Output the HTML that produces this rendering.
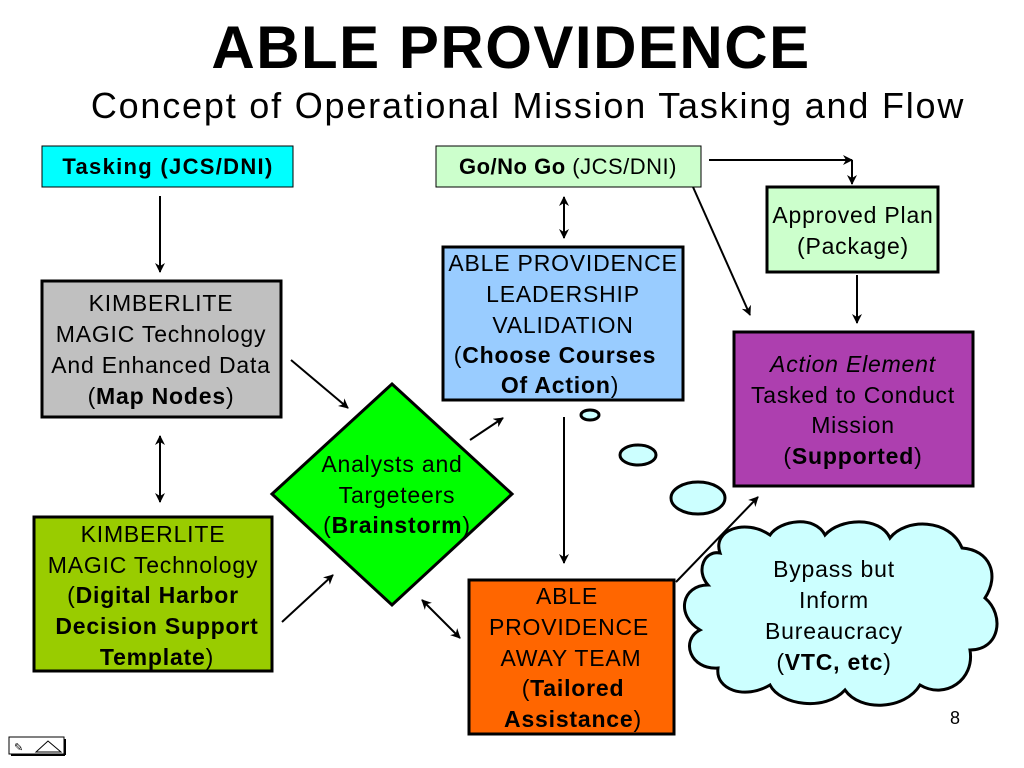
<!DOCTYPE html>
<html><head><meta charset="utf-8"><style>
html,body{margin:0;padding:0;background:#fff;}
svg{display:block;font-family:"Liberation Sans",Arial,sans-serif;}
</style></head><body>
<svg width="1024" height="768" viewBox="0 0 1024 768" xmlns="http://www.w3.org/2000/svg">
<defs>
<marker id="a" markerWidth="10" markerHeight="10" refX="9" refY="5" orient="auto" markerUnits="userSpaceOnUse"><path d="M0,0 L10,5 L0,10 L3,5 Z" fill="#000"/></marker>
<marker id="s" markerWidth="10" markerHeight="10" refX="1" refY="5" orient="auto" markerUnits="userSpaceOnUse"><path d="M10,0 L0,5 L10,10 L7,5 Z" fill="#000"/></marker>
</defs>
<rect width="1024" height="768" fill="#fff"/>
<text x="511" y="68" text-anchor="middle" font-size="60" font-weight="bold" letter-spacing="1.5">ABLE PROVIDENCE</text>
<text x="528" y="118" text-anchor="middle" font-size="36" letter-spacing="1.8">Concept of Operational Mission Tasking and Flow</text>

<g stroke="#000" stroke-width="3">
<rect x="42" y="146" width="251" height="41" fill="#00ffff" stroke-width="1"/>
<rect x="436" y="146" width="265" height="41" fill="#ccffcc" stroke-width="1"/>
<rect x="767" y="187" width="171" height="85" fill="#ccffcc"/>
<rect x="42" y="281" width="239" height="136" fill="#c0c0c0"/>
<rect x="443" y="247" width="240" height="153" fill="#99ccff"/>
<rect x="734" y="332" width="239" height="154" fill="#ad3faf"/>
<polygon points="392,384 512,494 392,605 272,494" fill="#00ff00"/>
<rect x="34" y="517" width="238" height="154" fill="#99cc00"/>
<rect x="469" y="580" width="205" height="154" fill="#ff6600"/>
<ellipse cx="590" cy="415" rx="9" ry="5" fill="#ccffff"/>
<ellipse cx="638" cy="455" rx="18" ry="10" fill="#ccffff"/>
<ellipse cx="698" cy="498" rx="27" ry="16" fill="#ccffff"/>
<path d="M720,553 C712,530 745,518 770,535 C780,520 815,515 825,535 C840,518 880,516 890,538 C905,518 950,518 962,548 C990,550 1000,575 985,598 C1005,615 1000,650 970,650 C975,680 945,700 920,685 C905,710 860,712 845,690 C825,712 780,705 770,685 C745,700 715,690 718,668 C690,670 680,640 700,630 C675,615 682,585 708,585 C695,570 705,550 720,553 Z" fill="#ccffff"/>
</g>

<g stroke="#000" stroke-width="2" fill="none">
<line x1="160" y1="196" x2="160" y2="272" marker-end="url(#a)"/>
<line x1="160" y1="436" x2="160" y2="502" marker-start="url(#s)" marker-end="url(#a)"/>
<line x1="291" y1="360" x2="348" y2="408" marker-end="url(#a)"/>
<line x1="282" y1="622" x2="333" y2="575" marker-end="url(#a)"/>
<line x1="470" y1="440" x2="503" y2="418" marker-end="url(#a)"/>
<line x1="422" y1="600" x2="460" y2="638" marker-start="url(#s)" marker-end="url(#a)"/>
<line x1="564" y1="417" x2="564" y2="563" marker-end="url(#a)"/>
<line x1="564" y1="197" x2="564" y2="238" marker-start="url(#s)" marker-end="url(#a)"/>
<line x1="709" y1="160" x2="852" y2="160" marker-end="url(#a)"/>
<line x1="852" y1="160" x2="852" y2="184" marker-end="url(#a)"/>
<line x1="693" y1="187" x2="750" y2="315" marker-end="url(#a)"/>
<line x1="857" y1="275" x2="857" y2="323" marker-end="url(#a)"/>
<line x1="676" y1="582" x2="758" y2="497" marker-end="url(#a)"/>
</g>

<g font-size="23" letter-spacing="0.8" text-anchor="middle" fill="#000">
<text x="168" y="174" font-weight="bold" font-size="22" letter-spacing="1.3">Tasking (JCS/DNI)</text>
<text x="568" y="174" font-size="22" letter-spacing="0.5"><tspan font-weight="bold">Go/No Go</tspan> (JCS/DNI)</text>
<text x="853" y="223">Approved Plan</text>
<text x="853" y="254">(Package)</text>
<text x="161" y="311">KIMBERLITE</text>
<text x="161" y="342">MAGIC Technology</text>
<text x="161" y="373">And Enhanced Data</text>
<text x="161" y="404">(<tspan font-weight="bold">Map Nodes</tspan>)</text>
<text x="563" y="271">ABLE PROVIDENCE</text>
<text x="563" y="302">LEADERSHIP</text>
<text x="563" y="333">VALIDATION</text>
<text x="555" y="363">(<tspan font-weight="bold">Choose Courses</tspan></text>
<text x="560" y="393"><tspan font-weight="bold">Of Action</tspan>)</text>
<text x="853" y="372" font-style="italic">Action Element</text>
<text x="853" y="403">Tasked to Conduct</text>
<text x="853" y="433">Mission</text>
<text x="853" y="464">(<tspan font-weight="bold">Supported</tspan>)</text>
<text x="392" y="472">Analysts and</text>
<text x="397" y="503">Targeteers</text>
<text x="397" y="533">(<tspan font-weight="bold">Brainstorm</tspan>)</text>
<text x="153" y="542">KIMBERLITE</text>
<text x="153" y="573">MAGIC Technology</text>
<text x="153" y="603">(<tspan font-weight="bold">Digital Harbor</tspan></text>
<text x="157" y="634"><tspan font-weight="bold">Decision Support</tspan></text>
<text x="157" y="665"><tspan font-weight="bold">Template</tspan>)</text>
<text x="567" y="604">ABLE</text>
<text x="569" y="635">PROVIDENCE</text>
<text x="571" y="666">AWAY TEAM</text>
<text x="573" y="696">(<tspan font-weight="bold">Tailored</tspan></text>
<text x="573" y="727"><tspan font-weight="bold">Assistance</tspan>)</text>
<text x="834" y="577">Bypass but</text>
<text x="834" y="608">Inform</text>
<text x="834" y="639">Bureaucracy</text>
<text x="834" y="670">(<tspan font-weight="bold">VTC, etc</tspan>)</text>
</g>
<text x="955" y="724" font-size="18" text-anchor="middle">8</text>
<rect x="9" y="737" width="55" height="17" fill="#fff" stroke="#000" stroke-width="1"/>
<line x1="11" y1="755" x2="65" y2="755" stroke="#000" stroke-width="2"/>
<line x1="65" y1="739" x2="65" y2="755" stroke="#000" stroke-width="2"/>
<text x="14" y="751" font-size="11">✎</text>
<polygon points="36,752 48,741 61,752" fill="none" stroke="#000" stroke-width="1"/>
</svg>
</body></html>
